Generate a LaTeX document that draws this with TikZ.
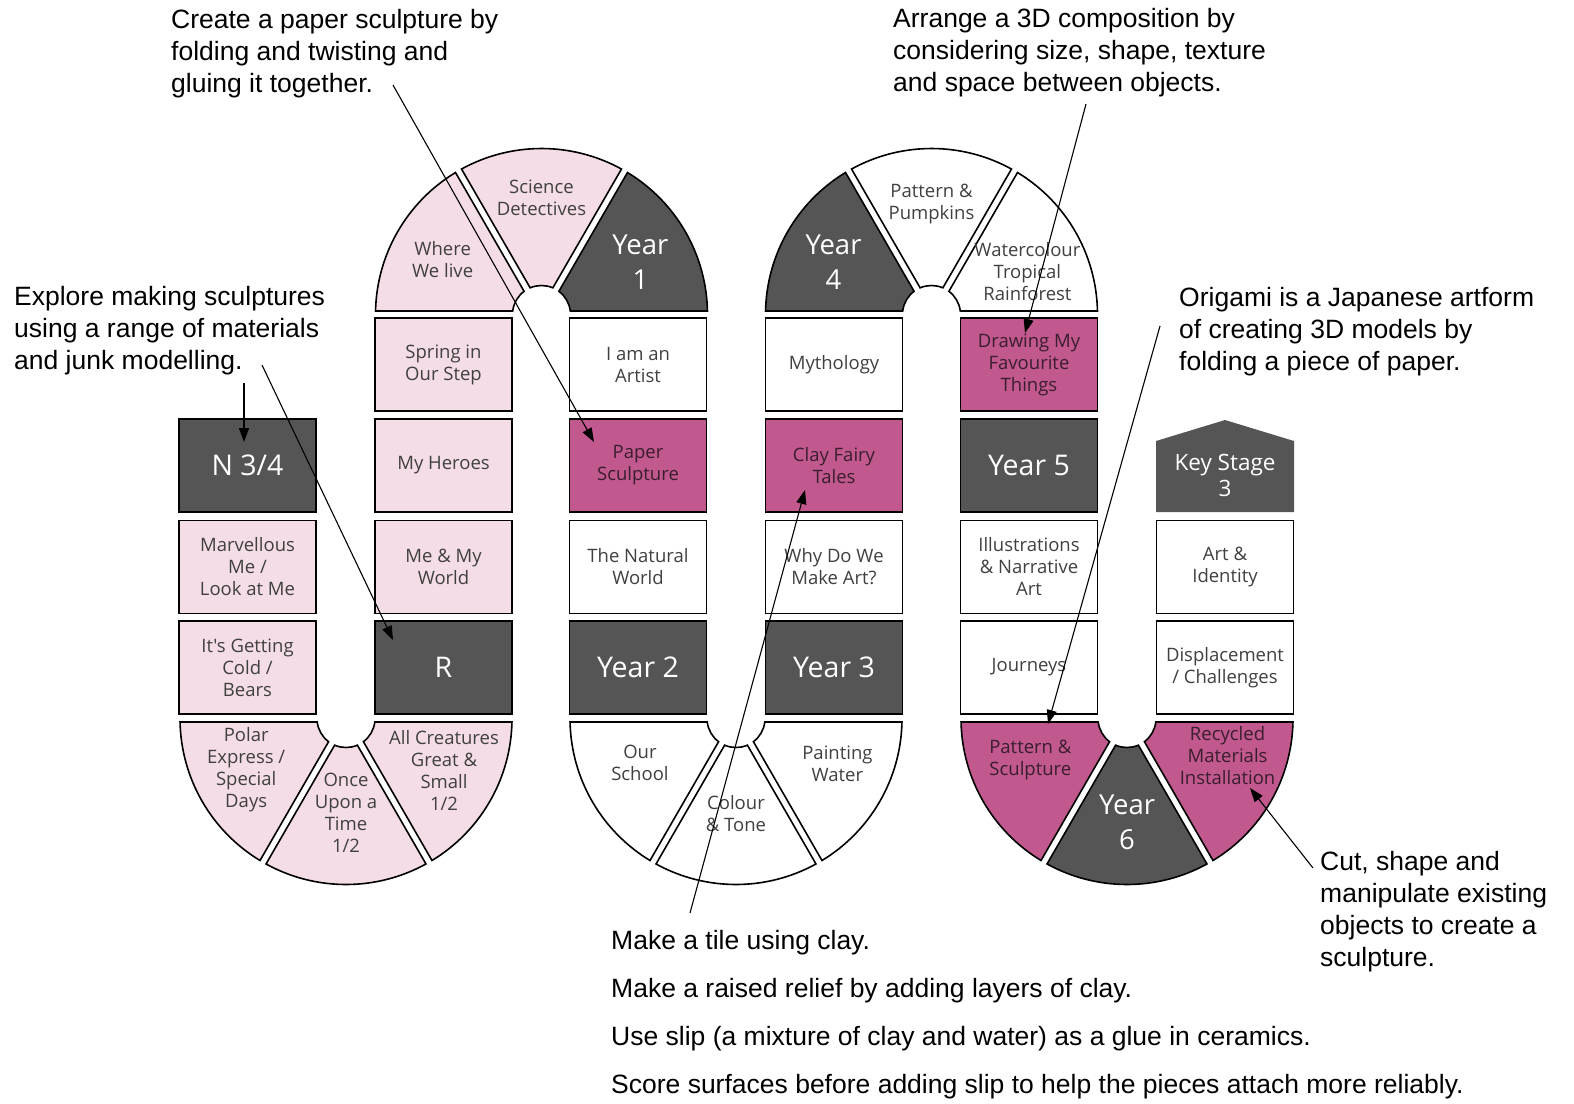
\documentclass[tikz,border=0pt]{standalone}
\usepackage{fontspec}
\setmainfont{Liberation Sans}
\newfontfamily\tilefont{Open Sans}
\usetikzlibrary{calc,arrows.meta}
\definecolor{tiledark}{RGB}{85,85,85}
\definecolor{tilepink}{RGB}{245,221,231}
\definecolor{tilemagenta}{RGB}{193,88,142}
\definecolor{tiletext}{RGB}{64,64,64}
\definecolor{plumtext}{RGB}{58,30,46}
\newcommand{\segment}[4]{%
  \path[draw=black,line width=1.6pt,fill=#4] ($(#1)+(#2+1.2:166)$) arc[start angle=#2+1.2,end angle=#3-1.2,radius=166]
    -- ($(#1)+(#3-6.9:29)$) arc[start angle=#3-6.9,end angle=#2+6.9,radius=29] -- cycle;}

\begin{document}
\begin{tikzpicture}[x=1pt,y=1pt,
        tile/.style={draw=black,line width=1.6pt,minimum width=137pt,minimum height=93pt,inner sep=0pt,align=center,
          text=tiletext,font=\tilefont\fontsize{18.5}{22}\selectfont},
        pinktile/.style={tile,fill=tilepink},
        whitetile/.style={tile,fill=white},
        magtile/.style={tile,fill=tilemagenta,text=plumtext},
        yeartile/.style={tile,fill=tiledark,text=white,font=\tilefont\fontsize{28.5}{35}\selectfont},
        segtext/.style={align=center,inner sep=0pt,text=tiletext,font=\tilefont\fontsize{18.5}{22}\selectfont},
        yeartext/.style={segtext,text=white,font=\tilefont\fontsize{27.5}{35}\selectfont},
        note/.style={align=left,anchor=base west,inner sep=0pt,font=\fontsize{26.5}{32}\selectfont},
        pointer/.style={-{Triangle[length=14pt,width=10pt]},line width=1.1pt},
        ]
        \useasboundingbox (0,0) rectangle (1574,-1103);
        \coordinate (topA) at (541.5,-314.5);
        \coordinate (topB) at (931.5,-314.5);
        \coordinate (botA) at (346,-718.5);
        \coordinate (botB) at (736,-718.5);
        \coordinate (botC) at (1127,-718.5);

        \segment{topA}{0}{60}{tiledark}
        \segment{topA}{60}{120}{tilepink}
        \segment{topA}{120}{180}{tilepink}
        \segment{topB}{0}{60}{white}
        \segment{topB}{60}{120}{white}
        \segment{topB}{120}{180}{tiledark}
        \segment{botA}{180}{240}{tilepink}
        \segment{botA}{240}{300}{tilepink}
        \segment{botA}{300}{360}{tilepink}
        \segment{botB}{180}{240}{white}
        \segment{botB}{240}{300}{white}
        \segment{botB}{300}{360}{white}
        \segment{botC}{180}{240}{tilemagenta}
        \segment{botC}{240}{300}{tiledark}
        \segment{botC}{300}{360}{tilemagenta}

        \node[segtext] (where) at ($(topA)+(151:113)$) {Where\\We live};
        \node[segtext] (science) at ($(topA)+(90:117)$) {Science\\Detectives};
        \node[yeartext] (yearone) at ($(topA)+(28:112)$) {Year\\1};
        \node[yeartext] (yearfour) at ($(topB)+(152:111)$) {Year\\4};
        \node[segtext] (pumpkins) at ($(topB)+(90:110)$) {Pattern \&\\Pumpkins};
        \node[segtext] (rainforest) at ($(topB)+(24:105)$) {Watercolour\\Tropical\\Rainforest};
        \node[segtext] (polar) at ($(botA)+(207:112)$) {Polar\\Express /\\Special\\Days};
        \node[segtext] (once) at ($(botA)+(270:94)$) {Once\\Upon a\\Time\\1/2};
        \node[segtext] (creatures) at ($(botA)+(332:111)$) {All Creatures\\Great \&\\Small\\1/2};
        \node[segtext] (school) at ($(botB)+(205:106)$) {Our\\School};
        \node[segtext] (tone) at ($(botB)+(270:95)$) {Colour\\\& Tone};
        \node[segtext] (water) at ($(botB)+(336:111)$) {Painting\\Water};
        \node[segtext,text=plumtext] (patsculpt) at ($(botC)+(203:105)$) {Pattern \&\\Sculpture};
        \node[yeartext] (yearsix) at ($(botC)+(270:104)$) {Year\\6};
        \node[segtext,text=plumtext] (recycled) at ($(botC)+(340:107)$) {Recycled\\Materials\\Installation};

        \node[yeartile] (nursery) at (247.5,-465.5) {N 3/4};
        \node[pinktile] (marvellous) at (247.5,-567) {Marvellous\\Me /\\Look at Me};
        \node[pinktile] (cold) at (247.5,-667.5) {It's Getting\\Cold /\\Bears};
        \node[pinktile] (spring) at (443.5,-364.5) {Spring in\\Our Step};
        \node[pinktile] (heroes) at (443.5,-465.5) {My Heroes};
        \node[pinktile] (myworld) at (443.5,-567) {Me \& My\\World};
        \node[yeartile] (reception) at (443.5,-667.5) {R};
        \node[whitetile] (artist) at (638,-364.5) {I am an\\Artist};
        \node[magtile] (paper) at (638,-465.5) {Paper\\Sculpture};
        \node[whitetile] (natural) at (638,-567) {The Natural\\World};
        \node[yeartile] (yeartwo) at (638,-667.5) {Year 2};
        \node[whitetile] (myth) at (834,-364.5) {Mythology};
        \node[magtile] (clay) at (834,-465.5) {Clay Fairy\\Tales};
        \node[whitetile] (whyart) at (834,-567) {Why Do We\\Make Art?};
        \node[yeartile] (yearthree) at (834,-667.5) {Year 3};
        \node[magtile] (drawing) at (1029,-364.5) {Drawing My\\Favourite\\Things};
        \node[yeartile] (yearfive) at (1029,-465.5) {Year 5};
        \node[whitetile] (illus) at (1029,-567) {Illustrations\\\& Narrative\\Art};
        \node[whitetile] (journeys) at (1029,-667.5) {Journeys};
        \path[fill=tiledark] (1156,-512) -- (1156,-441) -- (1225,-420) -- (1294,-441) -- (1294,-512) -- cycle;
        \node[segtext,text=white,font=\tilefont\fontsize{22.5}{26}\selectfont] (keystage) at (1225,-475) {Key Stage\\3};
        \node[whitetile] (identity) at (1225,-567) {Art \&\\Identity};
        \node[whitetile] (displace) at (1225,-667.5) {Displacement\\/ Challenges};

        \node[note] (papernote) at (171,-92) {Create a paper sculpture by\\folding and twisting and\\gluing it together.};
        \node[note] (explorenote) at (14,-369) {Explore making sculptures\\using a range of materials\\and junk modelling.};
        \node[note] (arrangenote) at (893,-91) {Arrange a 3D composition by\\considering size, shape, texture\\and space between objects.};
        \node[note] (origaminote) at (1179,-370) {Origami is a Japanese artform\\of creating 3D models by\\folding a piece of paper.};
        \node[note] (cutnote) at (1320,-966) {Cut, shape and\\manipulate existing\\objects to create a\\sculpture.};
        \node[note,font=\fontsize{26.5}{48}\selectfont] (claynote) at (611,-1093) {Make a tile using clay.\\Make a raised relief by adding layers of clay.\\Use slip (a mixture of clay and water) as a glue in ceramics.\\Score surfaces before adding slip to help the pieces attach more reliably.};

        \coordinate (paperfrom) at (393,-85);
        \coordinate (paperto) at (594,-442);
        \coordinate (nurseryfrom) at (244,-383);
        \coordinate (nurseryto) at (244,-442);
        \coordinate (receptionfrom) at (262,-365);
        \coordinate (receptionto) at (393,-640);
        \coordinate (drawingfrom) at (1086,-104);
        \coordinate (drawingto) at (1025,-333);
        \coordinate (patsculptfrom) at (1160,-326);
        \coordinate (patsculptto) at (1048,-724);
        \coordinate (clayfrom) at (690,-913);
        \coordinate (clayto) at (805,-490);
        \coordinate (recycledfrom) at (1313,-868);
        \coordinate (recycledto) at (1250,-788);
        \draw[pointer] (paperfrom) -- (paperto);
        \draw[pointer] (nurseryfrom) -- (nurseryto);
        \draw[pointer] (receptionfrom) -- (receptionto);
        \draw[pointer] (drawingfrom) -- (drawingto);
        \draw[pointer] (patsculptfrom) -- (patsculptto);
        \draw[pointer] (clayfrom) -- (clayto);
        \draw[pointer] (recycledfrom) -- (recycledto);
      \end{tikzpicture}
\end{document}
